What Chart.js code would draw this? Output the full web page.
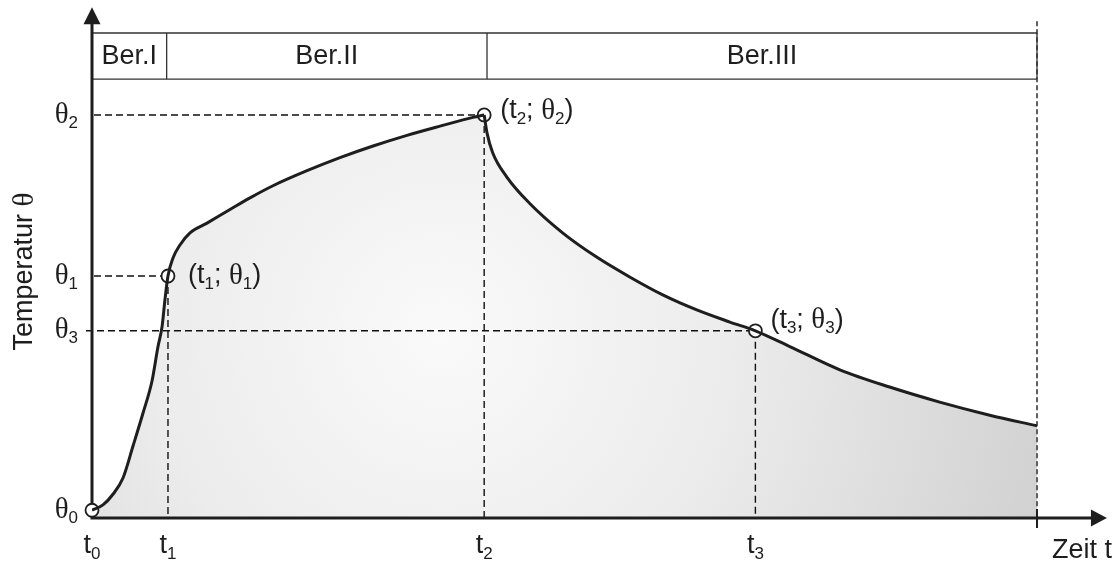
<!DOCTYPE html>
<html>
<head>
<meta charset="utf-8">
<style>
  html, body { margin: 0; padding: 0; background: #fff; }
  #wrap { width: 1116px; height: 563px; }
</style>
</head>
<body>
<div id="wrap"><canvas id="c" width="1116" height="563"></canvas></div>
<script src="https://cdn.jsdelivr.net/npm/chart.js@4/dist/chart.umd.min.js"></script>
<script>
// Heating phase: t0 -> t2 (time, temperature in relative units)
const riseT = [0, 1.16, 2.22, 3.28, 4.34, 5.40, 6.35, 6.98, 7.41, 7.72, 8.04, 8.57, 9.31, 10.37, 12.17, 14.60, 16.72, 19.15, 22.75, 26.24, 29.74, 33.33, 36.83, 40.32, 41.5];
const riseTheta = [1.6, 2.7, 4.9, 8.25, 14.85, 21.65, 28.25, 35.3, 39.4, 45.0, 49.9, 53.6, 56.3, 58.8, 60.8, 63.6, 66.0, 68.5, 71.6, 74.3, 76.7, 78.9, 80.8, 82.6, 83.1];

// Cooling phase: t2 -> end of observation
const coolT = [41.5, 41.8, 42.4, 43.9, 46.3, 49.8, 53.4, 56.9, 60.4, 64.0, 67.5, 70.2, 73.9, 79.2, 84.4, 89.7, 95.0, 100];
const coolTheta = [83.1, 79.4, 75.3, 70.3, 64.9, 58.8, 53.8, 49.7, 46.0, 42.9, 40.4, 38.6, 35.3, 30.5, 27.0, 23.9, 21.2, 19.0];

// Characteristic points (t_i ; θ_i), i = 0..3
const keyT = [0, 8.04, 41.5, 70.2];
const keyTheta = [1.6, 49.9, 83.1, 38.6];
const keyIndex = ['0', '1', '2', '3'];

// Ranges Ber.I / Ber.II / Ber.III
const bandEdges = [0, 7.9, 41.8, 100];
const bandNames = ['Ber.I', 'Ber.II', 'Ber.III'];
const bandTop = 100, bandBottom = 90.5;

const tEnd = 100;
const xArrowTip = 107.4, yArrowTip = 105.3;

const SANS = '"Liberation Sans", Arial, sans-serif';
const SERIF = '"Liberation Serif", "Times New Roman", serif';
const INK = '#1e1e1e';

const toXY = (xs, ys) => xs.map((x, i) => ({ x, y: ys[i] }));

function fillGradient(context) {
  const chart = context.chart;
  const area = chart.chartArea;
  if (!area) return '#e6e6e6';
  const cx = area.left + (area.right - area.left) * 0.37;
  const cy = area.top + (area.bottom - area.top) * 0.62;
  const g = chart.ctx.createRadialGradient(cx, cy, 0, cx, cy, 640);
  g.addColorStop(0, '#fafafa');
  g.addColorStop(0.45, '#ececec');
  g.addColorStop(1, '#d0d0d0');
  return g;
}

// text made of pieces: {t, f (font), dy}
function drawPieces(ctx, pieces, x, y, align) {
  let w = 0;
  pieces.forEach(p => { ctx.font = p.f; w += ctx.measureText(p.t).width; });
  let cx = align === 'center' ? x - w / 2 : align === 'right' ? x - w : x;
  ctx.textBaseline = 'middle';
  ctx.textAlign = 'left';
  pieces.forEach(p => {
    ctx.font = p.f;
    ctx.fillText(p.t, cx, y + (p.dy || 0));
    cx += ctx.measureText(p.t).width;
  });
}

const MAIN = '27px ' + SANS;
const THETA = '29px ' + SERIF;
const SUB = '17px ' + SANS;

const tPieces = i => [{ t: 't', f: MAIN }, { t: i, f: SUB, dy: 8 }];
const thPieces = i => [{ t: 'θ', f: THETA }, { t: i, f: SUB, dy: 8 }];
const pairPieces = i => [
  { t: '(t', f: MAIN }, { t: i, f: SUB, dy: 8 }, { t: '; ', f: MAIN },
  { t: 'θ', f: THETA }, { t: i, f: SUB, dy: 8 }, { t: ')', f: MAIN }
];
// label offsets (px) beside points 1..3
const pairDx = [0, 20, 16, 15];
const pairDy = [0, 0, -4, -10];

const diagram = {
  id: 'diagram',
  beforeDatasetsDraw(chart) {
    const { ctx, scales: { x, y } } = chart;
    const x0 = x.getPixelForValue(0), y0 = y.getPixelForValue(0);
    ctx.save();

    // guide lines to the characteristic points
    ctx.strokeStyle = '#111';
    ctx.lineWidth = 1.4;
    ctx.setLineDash([7, 4]);
    for (let i = 1; i < keyT.length; i++) {
      const px = x.getPixelForValue(keyT[i]);
      const py = y.getPixelForValue(keyTheta[i]);
      ctx.beginPath();
      ctx.moveTo(i === 3 ? x0 - 6 : x0 + 2, py);
      ctx.lineTo(px, py);
      ctx.moveTo(px, py);
      ctx.lineTo(px, y0);
      ctx.stroke();
    }

    // end of observation
    const xe = x.getPixelForValue(tEnd);
    ctx.strokeStyle = '#5e5e5e';
    ctx.lineWidth = 2;
    ctx.setLineDash([5, 3]);
    ctx.beginPath();
    ctx.moveTo(xe, y.getPixelForValue(yArrowTip) + 14);
    ctx.lineTo(xe, y0 - 8);
    ctx.stroke();
    ctx.setLineDash([]);

    // range boxes
    const bt = y.getPixelForValue(bandTop), bb = y.getPixelForValue(bandBottom);
    ctx.strokeStyle = '#333';
    ctx.lineWidth = 1.3;
    ctx.beginPath();
    ctx.moveTo(x0, bt); ctx.lineTo(xe, bt);
    ctx.moveTo(x0, bb); ctx.lineTo(xe, bb);
    for (let i = 1; i < bandEdges.length; i++) {
      const bx = x.getPixelForValue(bandEdges[i]);
      ctx.moveTo(bx, bt); ctx.lineTo(bx, bb);
    }
    ctx.stroke();
    ctx.fillStyle = INK;
    for (let i = 0; i < bandNames.length; i++) {
      const mx = (x.getPixelForValue(bandEdges[i]) + x.getPixelForValue(bandEdges[i + 1])) / 2;
      drawPieces(ctx, [{ t: bandNames[i], f: MAIN }], mx, (bt + bb) / 2 + 1, 'center');
    }

    // axes with arrow heads
    const ytip = y.getPixelForValue(yArrowTip), xtip = x.getPixelForValue(xArrowTip);
    ctx.strokeStyle = INK;
    ctx.fillStyle = INK;
    ctx.lineWidth = 3;
    ctx.beginPath();
    ctx.moveTo(x0, y0 + 1.5); ctx.lineTo(x0, ytip + 12);
    ctx.moveTo(x0 - 1.5, y0); ctx.lineTo(xtip - 12, y0);
    ctx.stroke();
    ctx.beginPath();
    ctx.moveTo(x0, ytip); ctx.lineTo(x0 - 8.5, ytip + 17); ctx.lineTo(x0 + 8.5, ytip + 17); ctx.closePath();
    ctx.fill();
    ctx.beginPath();
    ctx.moveTo(xtip, y0); ctx.lineTo(xtip - 16, y0 - 8.5); ctx.lineTo(xtip - 16, y0 + 8.5); ctx.closePath();
    ctx.fill();
    ctx.lineWidth = 2;
    ctx.beginPath();
    ctx.moveTo(xe, y0 - 9); ctx.lineTo(xe, y0 + 10);
    ctx.stroke();

    // axis labels
    ctx.fillStyle = INK;
    for (let i = 0; i < keyT.length; i++) {
      drawPieces(ctx, tPieces(keyIndex[i]), x.getPixelForValue(keyT[i]), y0 + 28, 'center');
      drawPieces(ctx, thPieces(keyIndex[i]), x0 - 14, y.getPixelForValue(keyTheta[i]), 'right');
    }
    drawPieces(ctx, [{ t: 'Zeit t', f: MAIN }], xtip + 5, y0 + 33, 'right');

    ctx.save();
    ctx.translate(25, (y0 + y.getPixelForValue(bandBottom)) / 2 - 27);
    ctx.rotate(-Math.PI / 2);
    drawPieces(ctx, [{ t: 'Temperatur ', f: MAIN }, { t: 'θ', f: THETA }], 0, 0, 'center');
    ctx.restore();

    // point labels
    for (let i = 1; i < keyT.length; i++) {
      const px = x.getPixelForValue(keyT[i]);
      const py = y.getPixelForValue(keyTheta[i]);
      drawPieces(ctx, pairPieces(keyIndex[i]), px + pairDx[i], py + pairDy[i], 'left');
    }
    ctx.restore();
  }
};

new Chart(document.getElementById('c'), {
  type: 'line',
  data: {
    datasets: [
      {
        data: toXY(riseT, riseTheta),
        borderColor: INK, borderWidth: 3, cubicInterpolationMode: 'monotone',
        pointRadius: 0, fill: 'origin', backgroundColor: fillGradient
      },
      {
        data: toXY(coolT, coolTheta),
        borderColor: INK, borderWidth: 3, cubicInterpolationMode: 'monotone',
        pointRadius: 0, fill: 'origin', backgroundColor: fillGradient
      },
      {
        data: toXY(keyT, keyTheta),
        showLine: false, clip: false,
        pointRadius: 6.5, pointBorderWidth: 1.8,
        pointBackgroundColor: '#fff', pointBorderColor: INK
      }
    ]
  },
  options: {
    responsive: false,
    animation: false,
    devicePixelRatio: 1,
    layout: { padding: { left: 92, right: 79, top: 33, bottom: 45 } },
    scales: {
      x: { type: 'linear', min: 0, max: 100, display: false },
      y: { type: 'linear', min: 0, max: 100, display: false }
    },
    plugins: {
      legend: { display: false },
      tooltip: { enabled: false },
      filler: { drawTime: 'beforeDatasetsDraw' }
    }
  },
  plugins: [diagram]
});
</script>
</body>
</html>
